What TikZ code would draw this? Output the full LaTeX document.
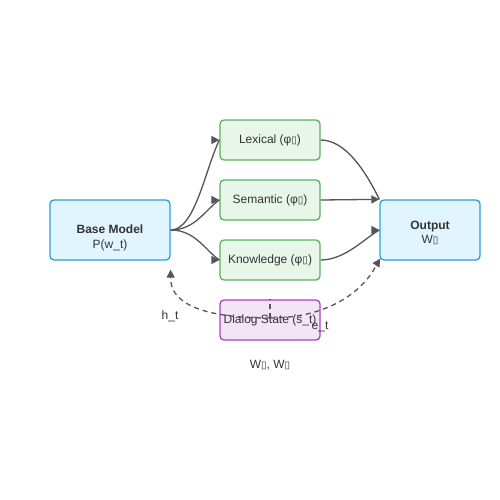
\documentclass[tikz,border=0pt]{standalone}
\usepackage{fontspec}
\setmainfont{Liberation Sans}
\newfontfamily\dejavu{DejaVu Sans}
\usetikzlibrary{arrows.meta}
\definecolor{edgec}{HTML}{555555}
\definecolor{bluefill}{HTML}{E1F5FE}
\definecolor{blueline}{HTML}{2A9FD8}
\definecolor{greenfill}{HTML}{E8F5E9}
\definecolor{greenline}{HTML}{5CB05F}
\definecolor{purplefill}{HTML}{F3E5F5}
\definecolor{purpleline}{HTML}{A645BC}
\definecolor{txt}{HTML}{333333}
\newcommand{\tofu}{{\dejavu\fontsize{10}{10}\selectfont ▯}}
\begin{document}
\begin{tikzpicture}[x=1pt,y=-1pt,
  every node/.style={font=\fontsize{12}{14}\selectfont, text=txt},
  boxbase/.style={draw, rounded corners=4pt, line width=1.3pt, inner sep=0pt, align=center},
  bluebox/.style={boxbase, fill=bluefill, draw=blueline, minimum width=120pt, minimum height=60pt},
  outbox/.style={boxbase, fill=bluefill, draw=blueline, minimum width=100pt, minimum height=60pt},
  greenbox/.style={boxbase, fill=greenfill, draw=greenline, minimum width=100pt, minimum height=40pt},
  purplebox/.style={boxbase, fill=purplefill, draw=purpleline, minimum width=100pt, minimum height=40pt},
  link/.style={draw=edgec, line width=1.3pt},
  tipline/.style={draw=edgec, line width=1.3pt, -{Triangle[length=8pt,width=8pt]}, fill=edgec},
  dashlink/.style={draw=edgec, line width=1.3pt, dash pattern=on 5pt off 4pt},
  lbl/.style={font=\fontsize{12}{14}\selectfont, text=txt, align=center}
]
\useasboundingbox (0,0) rectangle (500,500);

\node[bluebox] (base) at (110,230) {};
\node[lbl] (basetxt) at ([yshift=-8pt]base.center) {\textbf{Base Model}\\[1pt]P(w\_t)};
\node[greenbox] (lex) at (270,140) {Lexical (φ\tofu)};
\node[greenbox] (sem) at (270,200) {Semantic (φ\tofu)};
\node[greenbox] (kno) at (270,260) {Knowledge (φ\tofu)};
\node[outbox] (out) at (430,230) {};
\node[lbl] (outtxt) at ([yshift=-3pt]out.center) {\textbf{Output}\\[0pt]W\tofu};
\node[purplebox] (ds) at (270,320) {\raisebox{-1pt}{Dialog State (s\_t)}};

% base -> modules
\draw[link] (base.east) .. controls (195,230) and (205,170) .. (lex.west);
\draw[tipline] ([xshift=-1pt]lex.west) -- (lex.west);
\draw[link] (base.east) .. controls (195,230) and (205,210) .. (sem.west);
\draw[tipline] ([xshift=-1pt]sem.west) -- (sem.west);
\draw[link] (base.east) .. controls (195,230) and (205,250) .. (kno.west);
\draw[tipline] ([xshift=-1pt]kno.west) -- (kno.west);

% modules -> output
\coordinate (outtl) at (out.north west);
\draw[link] (lex.east) .. controls (345,140) and (365,170) .. (outtl);
\draw[tipline] (sem.east) -- (outtl);
\draw[link] (kno.east) .. controls (345,260) and (365,238) .. (out.west);
\draw[tipline] ([xshift=-1pt]out.west) -- (out.west);

% dialog state dashed connections
\coordinate (basetip) at ([yshift=-9pt]base.south east);
\coordinate (basetail) at ([yshift=-17pt]base.south east);
\coordinate (dsc) at ([yshift=2pt]ds.center);
\draw[dashlink] (dsc) .. controls (195,318) and (170,300) .. (basetail);
\draw[tipline] (basetail) -- (basetip);
\coordinate (outbl) at ([xshift=1pt,yshift=2pt]out.south west);
\coordinate (outtail) at ([xshift=-4pt,yshift=-6pt]outbl);
\draw[dashlink] (dsc) .. controls (340,318) and (370,280) .. (outtail);
\draw[tipline] (outtail) -- (outbl);
\draw[dashlink] (dsc) -- (ds.north);

% labels
\node[lbl] (ht) at (170,316) {h\_t};
\node[lbl] (et) at (320,327) {e\_t};
\node[lbl] (ww) at (270,365) {W\tofu, W\tofu};
\end{tikzpicture}
\end{document}
